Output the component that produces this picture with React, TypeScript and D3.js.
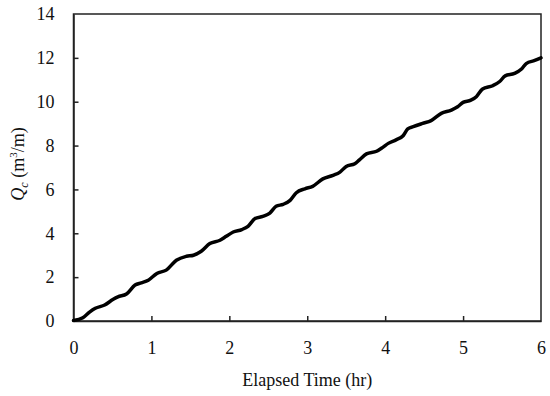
import { useEffect, useRef } from "react";
import * as d3 from "d3";

const timeHr = [
  0, 0.12, 0.21, 0.28, 0.4, 0.51, 0.57, 0.68, 0.79, 0.87, 0.96, 1.07, 1.19,
  1.32, 1.45, 1.54, 1.64, 1.75, 1.88, 1.96, 2.05, 2.16, 2.24, 2.33, 2.43, 2.52,
  2.6, 2.69, 2.78, 2.86, 2.97, 3.07, 3.2, 3.33, 3.42, 3.5, 3.61, 3.67, 3.76,
  3.89, 3.97, 4.04, 4.14, 4.23, 4.29, 4.36, 4.48, 4.59, 4.72, 4.85, 4.93, 5.0,
  5.1, 5.17, 5.25, 5.38, 5.47, 5.54, 5.66, 5.75, 5.81, 5.92, 6.0,
];
const flowQ = [
  0.02, 0.15, 0.42, 0.58, 0.73, 0.99, 1.1, 1.23, 1.64, 1.74, 1.86, 2.17, 2.32,
  2.77, 2.95, 3.0, 3.18, 3.53, 3.68, 3.86, 4.06, 4.17, 4.32, 4.67, 4.77, 4.92,
  5.23, 5.32, 5.5, 5.85, 6.03, 6.14, 6.48, 6.64, 6.79, 7.05, 7.17, 7.35, 7.62,
  7.74, 7.92, 8.1, 8.26, 8.45, 8.76, 8.86, 9.01, 9.14, 9.47, 9.62, 9.77, 9.97,
  10.07, 10.23, 10.58, 10.73, 10.92, 11.18, 11.29, 11.49, 11.74, 11.88, 12.0,
];
const xTicks = [0, 1, 2, 3, 4, 5, 6];
const yTicks = [0, 2, 4, 6, 8, 10, 12, 14];

const App = () => {
  const svgRef = useRef<SVGSVGElement>(null);

  useEffect(() => {
    const svg = d3.select(svgRef.current);
    svg.selectAll("*").remove();

    const left = 73.5;
    const right = 541;
    const top = 14;
    const bottom = 321;
    const font = "Liberation Serif";

    const x = d3.scaleLinear().domain([0, 6]).range([left, right]);
    const y = d3.scaleLinear().domain([0, 14]).range([bottom, top]);

    // frame
    svg
      .append("rect")
      .attr("x", left)
      .attr("y", top)
      .attr("width", right - left)
      .attr("height", bottom - top)
      .attr("fill", "none")
      .attr("stroke", "#222")
      .attr("stroke-width", 1.5);

    const gx = svg
      .append("g")
      .attr("transform", `translate(0,${bottom})`)
      .call(
        d3
          .axisBottom(x)
          .tickValues(xTicks)
          .tickSizeInner(-5)
          .tickSizeOuter(0)
          .tickPadding(20)
          .tickFormat(d3.format("d"))
      );
    const gy = svg
      .append("g")
      .attr("transform", `translate(${left},0)`)
      .call(
        d3
          .axisLeft(y)
          .tickValues(yTicks)
          .tickSizeInner(-5)
          .tickSizeOuter(0)
          .tickPadding(19)
          .tickFormat(d3.format("d"))
      );

    [gx, gy].forEach((g) => {
      g.attr("font-family", font).attr("font-size", 18);
      g.select(".domain").attr("stroke", "#222").attr("stroke-width", 1.5);
      g.selectAll(".tick line").attr("stroke", "#222").attr("stroke-width", 1.5);
      g.selectAll(".tick text").attr("fill", "#111");
    });
    gx.selectAll(".tick")
      .filter((d) => d === 0 || d === 6)
      .select("line")
      .remove();
    gy.selectAll(".tick")
      .filter((d) => d === 0 || d === 14)
      .select("line")
      .remove();

    const line = d3
      .line<number>()
      .x((d, i) => x(timeHr[i]))
      .y((d) => y(d))
      .curve(d3.curveMonotoneX);

    svg
      .append("path")
      .datum(flowQ)
      .attr("d", line)
      .attr("fill", "none")
      .attr("stroke", "#000")
      .attr("stroke-width", 3.5)
      .attr("stroke-linejoin", "round")
      .attr("stroke-linecap", "round");

    svg
      .append("text")
      .attr("x", (left + right) / 2)
      .attr("y", 386)
      .attr("text-anchor", "middle")
      .attr("font-family", font)
      .attr("font-size", 18)
      .attr("fill", "#111")
      .text("Elapsed Time (hr)");

    const yt = svg
      .append("text")
      .attr("transform", `translate(24,164) rotate(-90)`)
      .attr("text-anchor", "middle")
      .attr("font-family", font)
      .attr("font-size", 18)
      .attr("fill", "#111");
    yt.append("tspan").attr("font-style", "italic").text("Q");
    yt.append("tspan")
      .attr("font-style", "italic")
      .attr("font-size", 12)
      .attr("dy", 4)
      .text("c");
    yt.append("tspan").attr("dy", -4).text(" (m");
    yt.append("tspan").attr("font-size", 11).attr("dy", -7).text("3");
    yt.append("tspan").attr("dy", 7).text("/m)");
  }, []);

  return (
    <svg
      ref={svgRef}
      width={550}
      height={396}
      style={{ position: "absolute", left: 0, top: 0, background: "#fff" }}
    />
  );
};

export default App;
